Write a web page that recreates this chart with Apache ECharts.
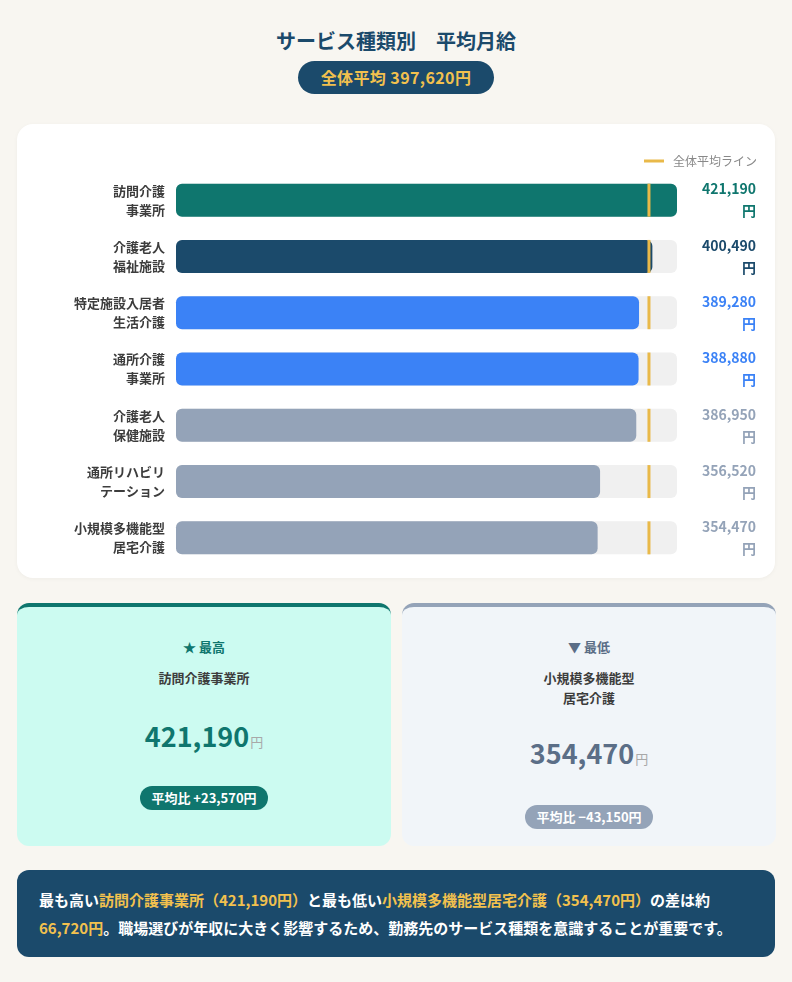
<!DOCTYPE html>
<html lang="ja">
<head>
<meta charset="utf-8">
<title>サービス種類別 平均月給</title>
<script src="https://cdn.jsdelivr.net/npm/echarts@6/dist/echarts.min.js"></script>
<style>
  html, body { margin: 0; padding: 0; }
  body {
    width: 792px; height: 982px; position: relative; overflow: hidden;
    background: #f8f6f1;
    font-family: "Noto Sans CJK JP", "Noto Sans", sans-serif;
  }
  #title {
    position: absolute; top: 27px; left: 0; width: 792px; text-align: center;
    font-size: 20px; font-weight: 700; color: #1b4a6b; line-height: 28px;
  }
  #avgPill {
    position: absolute; left: 298px; top: 61px; width: 196px; height: 33px;
    border-radius: 17px; background: #1b4a6b; color: #f2c14e;
    font-size: 16px; font-weight: 700; line-height: 33px; text-align: center;
    letter-spacing: 0.4px;
  }
  #chartCard {
    position: absolute; left: 17px; top: 124px; width: 758px; height: 454px;
    background: #ffffff; border-radius: 16px;
    box-shadow: 0 1px 4px rgba(0,0,0,0.04);
  }
  #chart { width: 758px; height: 454px; }
  .card {
    position: absolute; top: 603px; width: 374px; height: 243px;
    box-sizing: border-box; border-radius: 12px; text-align: center;
    padding-top: 30px;
  }
  #hiCard { left: 17px; background: #ccfbf1; border-top: 4px solid #0f766e; }
  #loCard { left: 402px; background: #f1f5f9; border-top: 4px solid #94a3b8; }
  .lab { font-size: 13px; font-weight: 700; line-height: 20px; }
  .nm { margin-top: 11px; font-size: 13px; font-weight: 700; line-height: 20px; color: #3d3d3d; }
  .num { height: 40px; font-size: 27px; font-weight: 700; line-height: 40px; }
  .num small { font-size: 13px; font-weight: 400; color: #a8a8a8; margin-left: 1px; line-height: 0; }
  .pillWrap { height: 24px; line-height: 24px; font-size: 13px; }
  .pill {
    display: inline-block; vertical-align: top; height: 24px; line-height: 24px; padding: 0 11px;
    border-radius: 12px; color: #ffffff; font-size: 13px; font-weight: 700;
  }
  #hiCard .lab, #hiCard .num { color: #0f766e; }
  #hiCard .num { margin-top: 28px; }
  #hiCard .pillWrap { margin-top: 30px; }
  #hiCard .pill { background: #0f766e; }
  #loCard .lab, #loCard .num { color: #5b6e87; }
  #loCard .num { margin-top: 25px; }
  #loCard .pillWrap { margin-top: 32px; }
  #loCard .pill { background: #94a3b8; }
  #note {
    position: absolute; left: 17px; top: 870px; width: 758px; height: 87px;
    box-sizing: border-box; padding: 16px 20px 0 22px; border-radius: 12px;
    background: #1b4a6b; color: #ffffff; font-size: 15px; font-weight: 700;
    line-height: 28px;
  }
  #note .hl { color: #f2c14e; }
</style>
</head>
<body>
<div id="title">サービス種類別　平均月給</div>
<div id="avgPill"></div>
<div id="chartCard"><div id="chart"></div></div>
<div id="hiCard" class="card"></div>
<div id="loCard" class="card"></div>
<div id="note"></div>

<script>
// ---- data ----
const categories = [
  "訪問介護\n事業所",
  "介護老人\n福祉施設",
  "特定施設入居者\n生活介護",
  "通所介護\n事業所",
  "介護老人\n保健施設",
  "通所リハビリ\nテーション",
  "小規模多機能型\n居宅介護"
];
const salaries = [421190, 400490, 389280, 388880, 386950, 356520, 354470];
const overallAverage = 397620;
const averageLabel = "全体平均ライン";

// ---- styles ----
const barColors = ["#0f766e", "#1b4a6b", "#3b82f6", "#3b82f6", "#94a3b8", "#94a3b8", "#94a3b8"];
const valueColors = ["#0f766e", "#1b4a6b", "#3b82f6", "#3b82f6", "#94a3b8", "#94a3b8", "#94a3b8"];
const avgLineColor = "#e9b949";

const fmt = v => v.toLocaleString("en-US");
const oneLine = s => s.replace(/\n/g, "");

// ---- header pill ----
document.getElementById("avgPill").textContent = "全体平均 " + fmt(overallAverage) + "円";

// ---- chart ----
const richValue = {};
valueColors.forEach((c, i) => {
  richValue["v" + i] = { color: c, fontSize: 14, fontWeight: "bold", lineHeight: 22, align: "right",
    fontFamily: "Noto Sans CJK JP" };
});

const chart = echarts.init(document.getElementById("chart"), null, { renderer: "canvas" });
chart.setOption({
  animation: false,
  textStyle: { fontFamily: "Noto Sans CJK JP" },
  grid: { left: 159, right: 98, top: 48, bottom: 12 },
  legend: {
    right: 13, top: 26,
    itemWidth: 20, itemHeight: 3,
    data: [{ name: averageLabel, icon: "rect" }],
    textStyle: { fontSize: 12, color: "#888888", padding: [0, 0, 0, 4] },
    selectedMode: false
  },
  xAxis: {
    type: "value", min: 0, max: Math.max(...salaries),
    show: false
  },
  yAxis: [
    {
      type: "category", inverse: true, data: categories,
      axisLine: { show: false }, axisTick: { show: false }, splitLine: { show: false },
      axisLabel: {
        margin: 11, fontSize: 13, fontWeight: "bold", color: "#3d3d3d", lineHeight: 19,
        align: "right"
      }
    },
    {
      type: "category", inverse: true, data: categories, position: "right",
      axisLine: { show: false }, axisTick: { show: false }, splitLine: { show: false },
      axisLabel: {
        margin: 79, align: "right",
        formatter: (val, idx) => `{v${idx}|${fmt(salaries[idx])}}\n{v${idx}|円}`,
        rich: richValue
      }
    }
  ],
  series: [
    {
      type: "bar", barWidth: 33, silent: true,
      showBackground: true,
      backgroundStyle: { color: "#f0f0f0", borderRadius: 6 },
      itemStyle: { borderRadius: 6 },
      data: salaries.map((v, i) => ({ value: v, itemStyle: { color: barColors[i] } }))
    },
    {
      type: "scatter", name: averageLabel, silent: true, z: 5,
      symbol: "rect", symbolSize: [3, 33],
      itemStyle: { color: avgLineColor, opacity: 1 },
      data: categories.map(c => [overallAverage, c])
    }
  ]
});

// ---- highlight cards ----
const maxIdx = salaries.indexOf(Math.max(...salaries));
const minIdx = salaries.indexOf(Math.min(...salaries));
const diffText = v => (v >= 0 ? "+" : "−") + fmt(Math.abs(v)) + "円";

function fillCard(id, label, idx, nameHtml) {
  document.getElementById(id).innerHTML =
    `<div class="lab">${label}</div>` +
    `<div class="nm">${nameHtml}</div>` +
    `<div class="num">${fmt(salaries[idx])}<small>円</small></div>` +
    `<div class="pillWrap"><span class="pill">平均比 ${diffText(salaries[idx] - overallAverage)}</span></div>`;
}
fillCard("hiCard", "★ 最高", maxIdx, oneLine(categories[maxIdx]));
fillCard("loCard", "▼ 最低", minIdx, categories[minIdx].replace(/\n/g, "<br>"));

// ---- note ----
const gap = salaries[maxIdx] - salaries[minIdx];
document.getElementById("note").innerHTML =
  `最も高い<span class="hl">${oneLine(categories[maxIdx])}（${fmt(salaries[maxIdx])}円）</span>と最も低い` +
  `<span class="hl">${oneLine(categories[minIdx])}（${fmt(salaries[minIdx])}円）</span>の差は約` +
  `<span class="hl">${fmt(gap)}円</span>。職場選びが年収に大きく影響するため、勤務先のサービス種類を意識することが重要です。`;
</script>
</body>
</html>
